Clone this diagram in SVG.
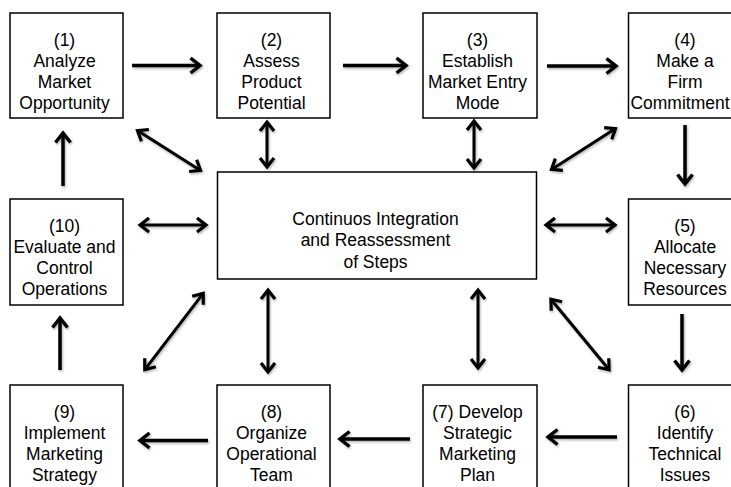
<svg xmlns="http://www.w3.org/2000/svg" width="731" height="487" viewBox="0 0 731 487">
<style>
.box{fill:#fff;stroke:#000;stroke-width:1.5}
.t{font-family:"Liberation Sans",Arial,Helvetica,sans-serif;font-size:17.5px;fill:#000;text-anchor:middle}
.a1{stroke:#000;stroke-width:3.5;fill:none;marker-end:url(#ah)}
.a2{stroke:#000;stroke-width:3;fill:none;marker-start:url(#ah2);marker-end:url(#ah2)}
</style>
<defs>
<filter id="sh" x="-20%" y="-20%" width="140%" height="140%">
<feDropShadow dx="1" dy="1.5" stdDeviation="1" flood-color="#000" flood-opacity="0.3"/>
</filter>
<marker id="ah" markerUnits="userSpaceOnUse" orient="auto-start-reverse" refX="0" refY="0" markerWidth="30" markerHeight="30" viewBox="-15 -15 30 30" overflow="visible">
<path d="M-9.5,-7.5 L0,0 L-9.5,7.5" fill="none" stroke="#000" stroke-width="3.5" stroke-linejoin="miter"/>
</marker>
<marker id="ah2" markerUnits="userSpaceOnUse" orient="auto-start-reverse" refX="0" refY="0" markerWidth="30" markerHeight="30" viewBox="-15 -15 30 30" overflow="visible">
<path d="M-9,-7 L0,0 L-9,7" fill="none" stroke="#000" stroke-width="3.2" stroke-linejoin="miter"/>
</marker>
</defs>
<rect width="731" height="487" fill="#fff"/>

<g id="connectors" filter="url(#sh)">
<line class="a1" x1="132" y1="65.5" x2="200" y2="65.5"/>
<line class="a1" x1="343" y1="65.5" x2="406" y2="65.5"/>
<line class="a1" x1="547" y1="66" x2="616" y2="66"/>
<line class="a1" x1="685" y1="125" x2="685" y2="184"/>
<line class="a1" x1="682" y1="314" x2="682" y2="370"/>
<line class="a1" x1="617" y1="437" x2="548" y2="437"/>
<line class="a1" x1="410" y1="439" x2="340" y2="439"/>
<line class="a1" x1="208" y1="440.5" x2="140" y2="440.5"/>
<line class="a1" x1="60" y1="370" x2="60" y2="318"/>
<line class="a1" x1="63" y1="186" x2="63" y2="133"/>

<line class="a2" x1="137.5" y1="130.6" x2="200.5" y2="170.4"/>
<line class="a2" x1="267" y1="122" x2="267" y2="167"/>
<line class="a2" x1="474" y1="121" x2="474" y2="168"/>
<line class="a2" x1="615.5" y1="128.6" x2="551.5" y2="169.4"/>
<line class="a2" x1="140" y1="225" x2="206" y2="225"/>
<line class="a2" x1="546" y1="225" x2="615" y2="225"/>
<line class="a2" x1="203.2" y1="293.4" x2="144.8" y2="369.6"/>
<line class="a2" x1="268" y1="290" x2="268" y2="372"/>
<line class="a2" x1="478" y1="290" x2="478" y2="368"/>
<line class="a2" x1="550.9" y1="299.3" x2="609.1" y2="369.7"/>
</g>

<g id="n1"><rect class="box" x="10" y="13" width="113" height="105"/>
<text class="t" transform="translate(64.5,45.5) scale(1,1.08)"><tspan x="0" y="0">(1)</tspan><tspan x="0" y="19.7">Analyze</tspan><tspan x="0" y="39.4">Market</tspan><tspan x="0" y="59.2">Opportunity</tspan></text></g>

<g id="n2"><rect class="box" x="217" y="13" width="113" height="105"/>
<text class="t" transform="translate(271.5,45.5) scale(1,1.08)"><tspan x="0" y="0">(2)</tspan><tspan x="0" y="19.7">Assess</tspan><tspan x="0" y="39.4">Product</tspan><tspan x="0" y="59.2">Potential</tspan></text></g>

<g id="n3"><rect class="box" x="423" y="13" width="114" height="105"/>
<text class="t" transform="translate(477.5,45.5) scale(1,1.08)"><tspan x="0" y="0">(3)</tspan><tspan x="0" y="19.7">Establish</tspan><tspan x="0" y="39.4">Market Entry</tspan><tspan x="0" y="59.2">Mode</tspan></text></g>

<g id="n4"><rect class="box" x="628.5" y="13" width="113" height="105"/>
<text class="t" transform="translate(685,45.5) scale(1,1.08)"><tspan x="0" y="0">(4)</tspan><tspan x="0" y="19.7">Make a</tspan><tspan x="0" y="39.4">Firm</tspan><tspan x="-5" y="59.2">Commitment</tspan></text></g>

<g id="n5"><rect class="box" x="628.5" y="199" width="113" height="106"/>
<text class="t" transform="translate(685,231.5) scale(1,1.08)"><tspan x="0" y="0">(5)</tspan><tspan x="0" y="19.7">Allocate</tspan><tspan x="0" y="39.4">Necessary</tspan><tspan x="0" y="59.2">Resources</tspan></text></g>

<g id="n6"><rect class="box" x="628.5" y="385" width="113" height="110"/>
<text class="t" transform="translate(685,417.5) scale(1,1.08)"><tspan x="0" y="0">(6)</tspan><tspan x="0" y="19.7">Identify</tspan><tspan x="0" y="39.4">Technical</tspan><tspan x="0" y="59.2">Issues</tspan></text></g>

<g id="n7"><rect class="box" x="423" y="385" width="114" height="110"/>
<text class="t" transform="translate(477.5,417.5) scale(1,1.08)"><tspan x="0" y="0">(7) Develop</tspan><tspan x="0" y="19.7">Strategic</tspan><tspan x="0" y="39.4">Marketing</tspan><tspan x="0" y="59.2">Plan</tspan></text></g>

<g id="n8"><rect class="box" x="217" y="385" width="113" height="110"/>
<text class="t" transform="translate(271.5,417.5) scale(1,1.08)"><tspan x="0" y="0">(8)</tspan><tspan x="0" y="19.7">Organize</tspan><tspan x="0" y="39.4">Operational</tspan><tspan x="0" y="59.2">Team</tspan></text></g>

<g id="n9"><rect class="box" x="10" y="385" width="113" height="110"/>
<text class="t" transform="translate(64.5,417.5) scale(1,1.08)"><tspan x="0" y="0">(9)</tspan><tspan x="0" y="19.7">Implement</tspan><tspan x="0" y="39.4">Marketing</tspan><tspan x="0" y="59.2">Strategy</tspan></text></g>

<g id="n10"><rect class="box" x="10" y="199" width="113" height="106"/>
<text class="t" transform="translate(64.5,231.5) scale(1,1.08)"><tspan x="0" y="0">(10)</tspan><tspan x="0" y="19.7">Evaluate and</tspan><tspan x="0" y="39.4">Control</tspan><tspan x="0" y="59.2">Operations</tspan></text></g>

<g id="center"><rect class="box" x="217.5" y="172" width="319" height="107"/>
<text class="t" transform="translate(375.5,225) scale(1,1.08)"><tspan x="0" y="0">Continuos Integration</tspan><tspan x="0" y="19.7">and Reassessment</tspan><tspan x="0" y="39.4">of Steps</tspan></text></g>
</svg>
